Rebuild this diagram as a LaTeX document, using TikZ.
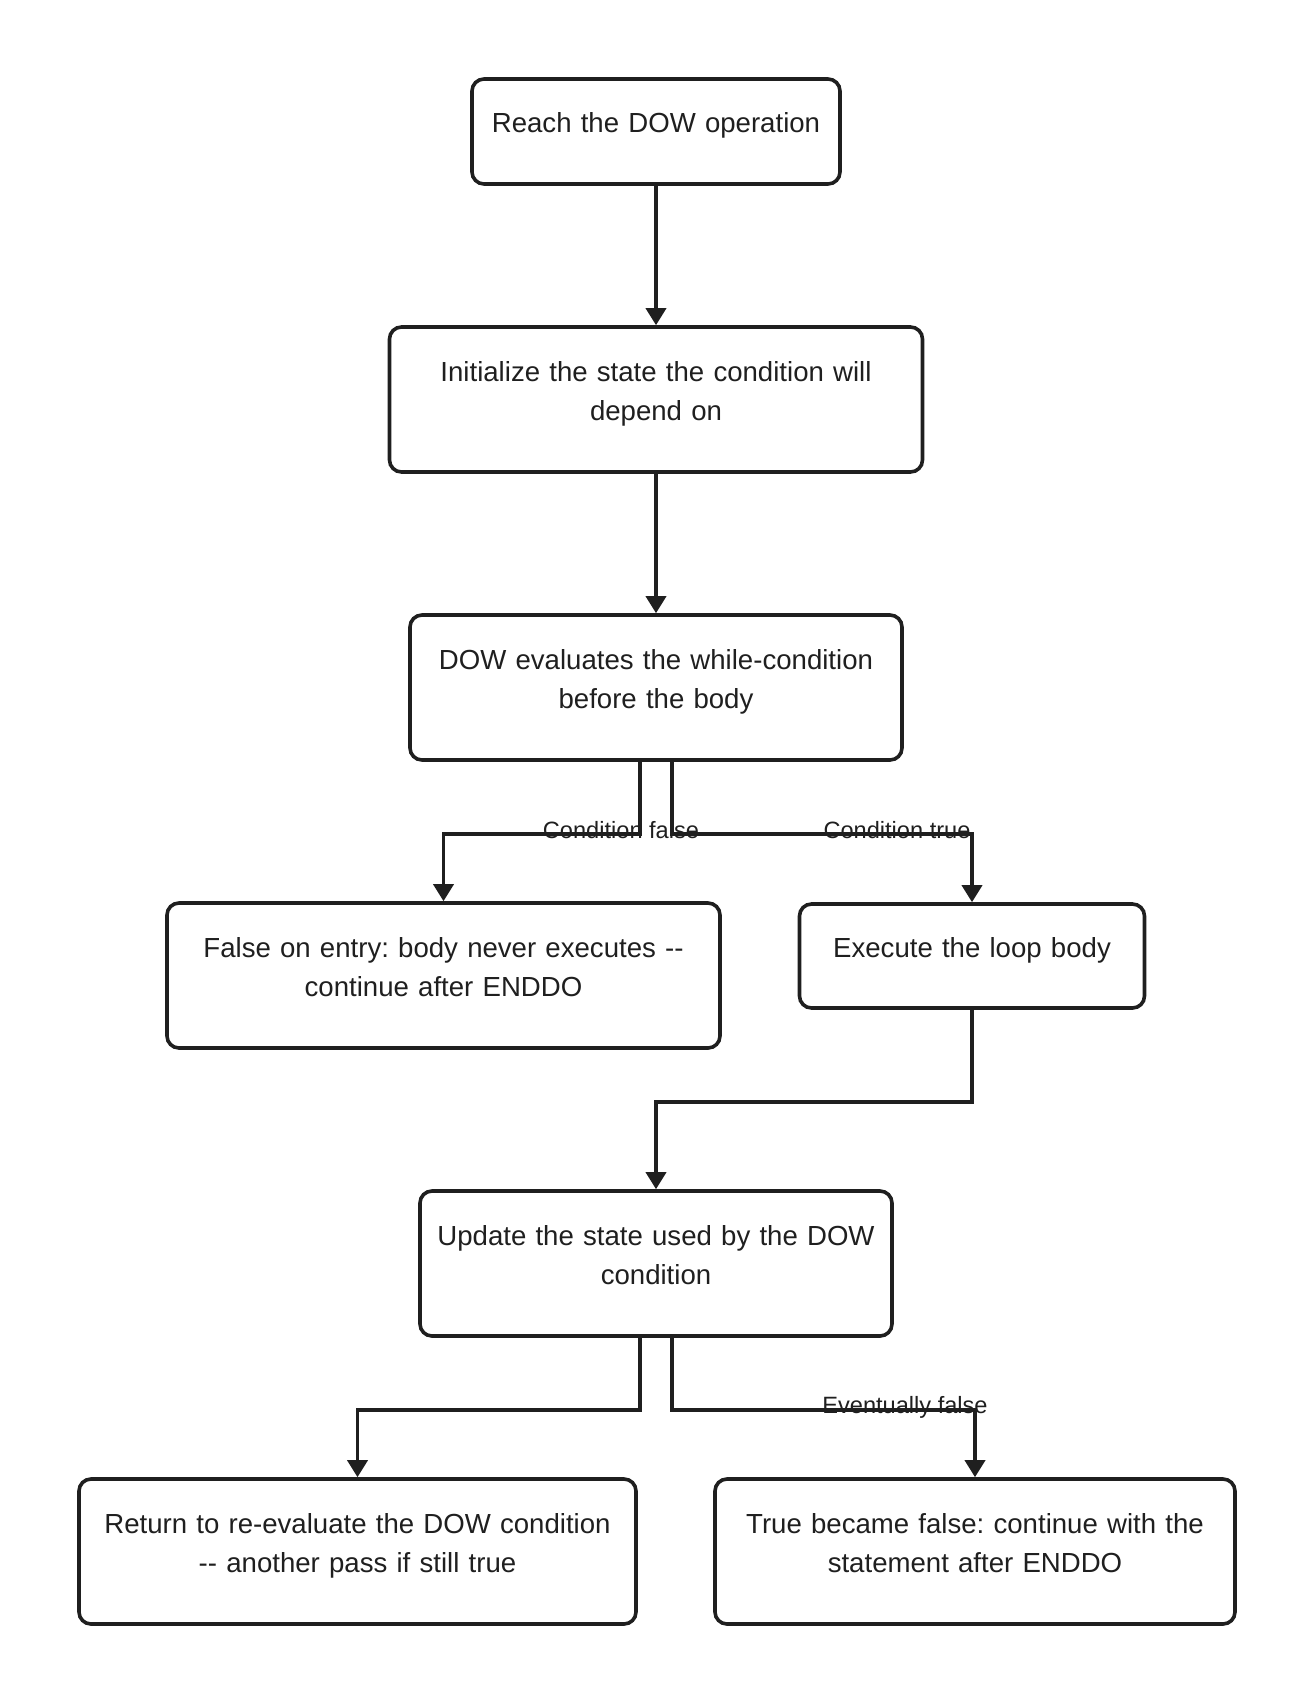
\documentclass[tikz,border=0pt]{standalone}
\usepackage{fontspec}
\setmainfont{Liberation Sans}
\usepackage{tikz}
\usetikzlibrary{arrows.meta}
\frenchspacing

\begin{document}
\begin{tikzpicture}[x=0.5pt, y=-0.5pt,
    line width=1.8pt, color=black!88,
    box/.style={draw, rounded corners=6pt, align=center, inner sep=0pt,
        font=\fontsize{13.8}{19.5}\selectfont,
        execute at begin node={\leavevmode\strut},
        execute at end node={\strut\endgraf\kern6.8pt}},
    flow/.style={-{Triangle[length=8.5pt, width=10pt]}},
    tag/.style={font=\fontsize{11.8}{14}\selectfont, inner sep=0pt}]
    \useasboundingbox (0,0) rectangle (1314,1704);
    % boxes
    \node[box, minimum width=184pt, minimum height=52.5pt, text width=176pt] (reach) at (656,131.5) {Reach the DOW operation};
    \node[box, minimum width=266.5pt, minimum height=72.5pt, text width=256pt] (init) at (656,399.5) {Initialize the state the condition will\\depend on};
    \node[box, minimum width=246pt, minimum height=72.5pt, text width=236pt] (eval) at (656,687.5) {DOW evaluates the while-condition\\before the body};
    \node[box, minimum width=276.5pt, minimum height=72.5pt, text width=266pt] (never) at (443.5,975.5) {False on entry: body never executes -{}-\\continue after ENDDO};
    \node[box, minimum width=172.5pt, minimum height=52pt, text width=164pt] (body) at (972,956) {Execute the loop body};
    \node[box, minimum width=236pt, minimum height=72.5pt, text width=228pt] (update) at (656,1263.5) {Update the state used by the DOW\\condition};
    \node[box, minimum width=278.5pt, minimum height=72.5pt, text width=268pt] (again) at (357.5,1551.5) {Return to re-evaluate the DOW condition\\-{}- another pass if still true};
    \node[box, minimum width=260pt, minimum height=72.5pt, text width=250pt] (after) at (975,1551.5) {True became false: continue with the\\statement after ENDDO};
    % connectors
    \draw[flow] (reach) -- (init);
    \draw[flow] (init) -- (eval);
    \draw[flow] ([xshift=-8pt]eval.south) -- ++(0,72) -| (never.north);
    \draw[flow] ([xshift=8pt]eval.south) -- ++(0,72) -| (body.north);
    \draw[flow] (body.south) -- ++(0,92) -| (update.north);
    \draw[flow] ([xshift=-8pt]update.south) -- ++(0,72) -| (again.north);
    \draw[flow] ([xshift=8pt]update.south) -- ++(0,72) -| (after.north);
    % edge labels
    \node[tag] (lfalse) at (621,830) {Condition false};
    \node[tag] (ltrue) at (897,830) {Condition true};
    \node[tag] (leventually) at (905,1407) {Eventually false};
\end{tikzpicture}
\end{document}
